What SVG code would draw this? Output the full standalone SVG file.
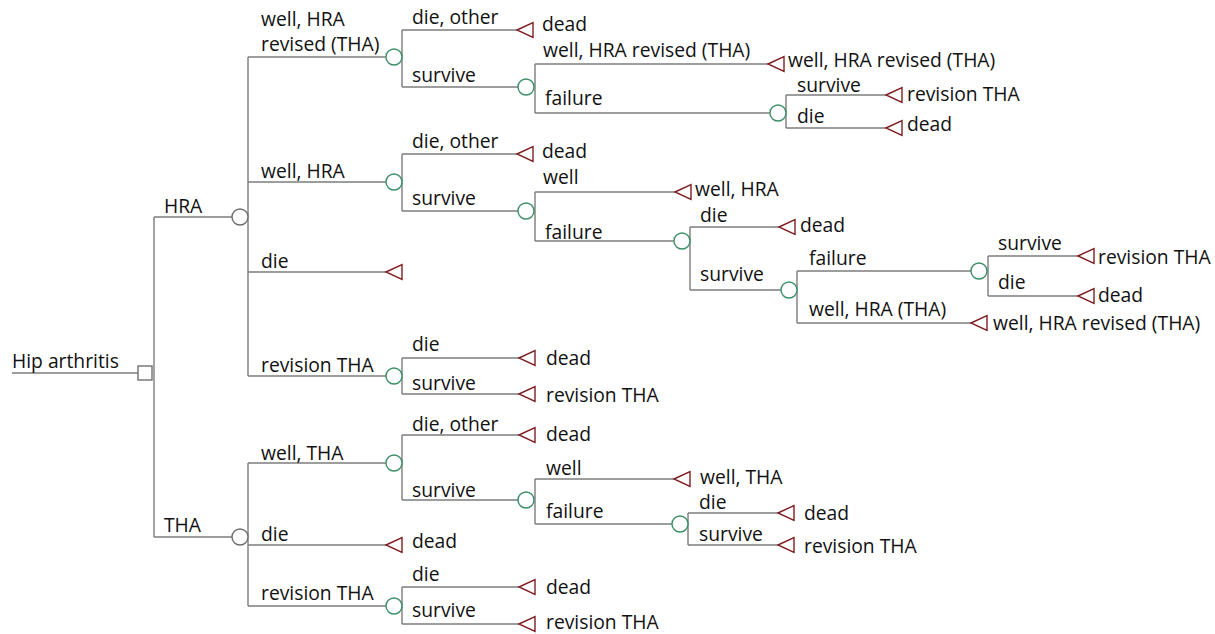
<svg xmlns="http://www.w3.org/2000/svg" width="1215" height="634" viewBox="0 0 1215 634">
<style>
text{font-family:"Open Sans","Noto Sans","Liberation Sans",sans-serif;font-size:19.3px;fill:#111}
.c{fill:none;stroke:#7d7d7d;stroke-width:1.4}
.ch{fill:#fff;stroke:#3b8f66;stroke-width:1.4}
.ch0{fill:#fff;stroke:#6f6f6f;stroke-width:1.4}
.dec{fill:#fff;stroke:#6f6f6f;stroke-width:1.4}
.t{fill:none;stroke:#7f1e22;stroke-width:1.4}
</style>
<defs>
<path id="tri" d="M0,0 L16,-7.5 L16,7.5 Z"/>
</defs>
<rect width="1215" height="634" fill="#fff"/>
<g id="connectors" class="c">
<path d="M12,373 H138"/>
<path d="M154,217 V537 M154,217 H232 M154,537 H232"/>
<path d="M248,57 V376 M248,57 H386 M248,182 H386 M248,272 H386 M248,376 H386"/>
<path d="M402,30 V87 M402,30 H517 M402,87 H518"/>
<path d="M535,64 V113 M535,64 H768 M535,113 H770"/>
<path d="M786,95 V128 M786,95 H886 M786,128 H886"/>
<path d="M402,154 V211 M402,154 H517 M402,211 H518"/>
<path d="M535,192 V241 M535,192 H675 M535,241 H674"/>
<path d="M690,227 V290 M690,227 H779 M690,290 H781"/>
<path d="M797,271 V323 M797,271 H971 M797,323 H971"/>
<path d="M987,271 H988 M988,256 V296 M988,256 H1078 M988,296 H1078"/>
<path d="M402,358 V394 M402,358 H519 M402,394 H519"/>
<path d="M248,463 V606 M248,463 H386 M248,545 H386 M248,606 H386"/>
<path d="M402,435 V500 M402,435 H519 M402,500 H518"/>
<path d="M535,479 V524 M535,479 H674 M535,524 H672"/>
<path d="M688,513 V545 M688,513 H778 M688,545 H778"/>
<path d="M402,587 V624 M402,587 H519 M402,624 H519"/>
</g>
<g id="n-root"><text x="12" y="368">Hip arthritis</text><rect class="dec" x="138" y="366" width="14" height="14"/></g>
<g id="n-hra"><text x="164" y="213">HRA</text><circle class="ch0" cx="240" cy="217" r="8"/></g>
<g id="n-tha"><text x="164" y="532">THA</text><circle class="ch0" cx="240" cy="537" r="8"/></g>

<g id="n-hra-wr"><text x="261" y="26">well, HRA</text><text x="261" y="51">revised (THA)</text><circle class="ch" cx="394" cy="57" r="8"/></g>
<g id="n-hra-wr-die"><text x="412" y="24">die, other</text><use href="#tri" class="t" x="517" y="30"/><text x="542" y="30.5">dead</text></g>
<g id="n-hra-wr-s"><text x="412" y="82">survive</text><circle class="ch" cx="526" cy="87" r="8"/></g>
<g id="n-hra-wr-s-w"><text x="543" y="57">well, HRA revised (THA)</text><use href="#tri" class="t" x="768" y="64"/><text x="788" y="67">well, HRA revised (THA)</text></g>
<g id="n-hra-wr-s-f"><text x="545" y="105">failure</text><circle class="ch" cx="778" cy="113" r="8"/></g>
<g id="n-hra-wr-s-f-s"><text x="797" y="92">survive</text><use href="#tri" class="t" x="886" y="95"/><text x="907" y="101">revision THA</text></g>
<g id="n-hra-wr-s-f-d"><text x="797" y="123">die</text><use href="#tri" class="t" x="886" y="128"/><text x="907" y="131">dead</text></g>

<g id="n-hra-w"><text x="261" y="178">well, HRA</text><circle class="ch" cx="394" cy="182" r="8"/></g>
<g id="n-hra-w-die"><text x="412" y="148">die, other</text><use href="#tri" class="t" x="517" y="154"/><text x="542" y="158">dead</text></g>
<g id="n-hra-w-s"><text x="412" y="205">survive</text><circle class="ch" cx="526" cy="211" r="8"/></g>
<g id="n-hra-w-s-w"><text x="543" y="184">well</text><use href="#tri" class="t" x="675" y="192"/><text x="695" y="196">well, HRA</text></g>
<g id="n-hra-w-s-f"><text x="545" y="239">failure</text><circle class="ch" cx="682" cy="241" r="8"/></g>
<g id="n-hra-w-s-f-d"><text x="700" y="222">die</text><use href="#tri" class="t" x="779" y="227"/><text x="800" y="232">dead</text></g>
<g id="n-hra-w-s-f-s"><text x="700" y="281">survive</text><circle class="ch" cx="789" cy="290" r="8"/></g>
<g id="n-hra-w-s-f-s-f"><text x="809" y="265">failure</text><circle class="ch" cx="979" cy="271" r="8"/></g>
<g id="n-hra-w-s-f-s-f-s"><text x="998" y="250">survive</text><use href="#tri" class="t" x="1078" y="256"/><text x="1098" y="264">revision THA</text></g>
<g id="n-hra-w-s-f-s-f-d"><text x="998" y="289">die</text><use href="#tri" class="t" x="1078" y="296"/><text x="1098" y="302">dead</text></g>
<g id="n-hra-w-s-f-s-w"><text x="809" y="316">well, HRA (THA)</text><use href="#tri" class="t" x="971" y="323"/><text x="993" y="330">well, HRA revised (THA)</text></g>

<g id="n-hra-die"><text x="261" y="268">die</text><use href="#tri" class="t" x="386" y="272"/></g>

<g id="n-hra-rev"><text x="261" y="372">revision THA</text><circle class="ch" cx="394" cy="376" r="8"/></g>
<g id="n-hra-rev-d"><text x="412" y="351">die</text><use href="#tri" class="t" x="519" y="358"/><text x="546" y="365">dead</text></g>
<g id="n-hra-rev-s"><text x="412" y="390">survive</text><use href="#tri" class="t" x="519" y="394"/><text x="546" y="402">revision THA</text></g>

<g id="n-tha-w"><text x="261" y="460">well, THA</text><circle class="ch" cx="394" cy="463" r="8"/></g>
<g id="n-tha-w-die"><text x="412" y="431">die, other</text><use href="#tri" class="t" x="519" y="435"/><text x="546" y="441">dead</text></g>
<g id="n-tha-w-s"><text x="412" y="497">survive</text><circle class="ch" cx="526" cy="500" r="8"/></g>
<g id="n-tha-w-s-w"><text x="546" y="475">well</text><use href="#tri" class="t" x="674" y="479"/><text x="700" y="484">well, THA</text></g>
<g id="n-tha-w-s-f"><text x="546" y="518">failure</text><circle class="ch" cx="680" cy="524" r="8"/></g>
<g id="n-tha-w-s-f-d"><text x="699" y="509">die</text><use href="#tri" class="t" x="778" y="513"/><text x="804" y="520">dead</text></g>
<g id="n-tha-w-s-f-s"><text x="699" y="541">survive</text><use href="#tri" class="t" x="778" y="545"/><text x="804" y="553">revision THA</text></g>

<g id="n-tha-die"><text x="261" y="541">die</text><use href="#tri" class="t" x="386" y="545"/><text x="412" y="548">dead</text></g>

<g id="n-tha-rev"><text x="261" y="600">revision THA</text><circle class="ch" cx="394" cy="606" r="8"/></g>
<g id="n-tha-rev-d"><text x="412" y="581">die</text><use href="#tri" class="t" x="519" y="587"/><text x="546" y="594">dead</text></g>
<g id="n-tha-rev-s"><text x="412" y="617">survive</text><use href="#tri" class="t" x="519" y="624"/><text x="546" y="629">revision THA</text></g>
</svg>
